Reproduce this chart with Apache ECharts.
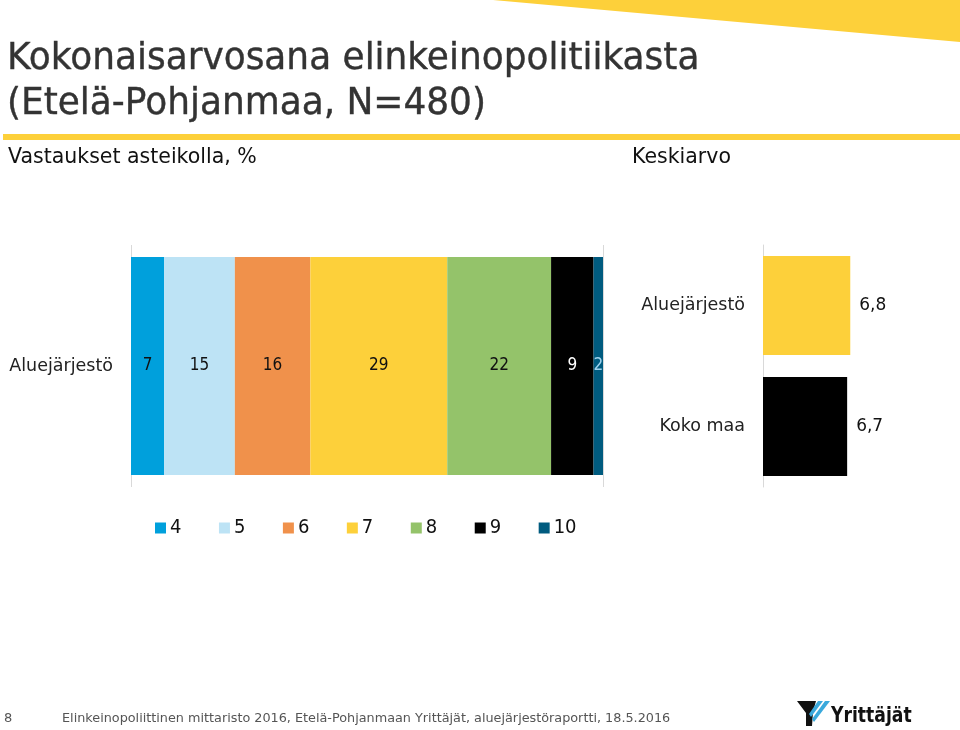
<!DOCTYPE html>
<html>
<head>
<meta charset="utf-8">
<script src="https://cdn.jsdelivr.net/npm/echarts@6/dist/echarts.min.js"></script>
<style>
  html, body { margin: 0; padding: 0; background: #fff; }
  #chart { width: 960px; height: 730px; }
</style>
</head>
<body>
<div id="chart"></div>
<script>
// jakauma asteikolla 4..10, %
const scaleNames = ['4', '5', '6', '7', '8', '9', '10']
const shares = [7, 15, 16, 29, 22, 9, 2]
const scaleColors = ['#00a0dc', '#bde3f5', '#f0914b', '#fdd03a', '#94c36a', '#000000', '#005b7f']
const labelColors = ['#111', '#111', '#111', '#111', '#111', '#fff', '#9fd3ee']
const rowName = ['Aluejärjestö']

// keskiarvot
const avgNames = ['Aluejärjestö', 'Koko maa']
const avgValues = [6.8, 6.7]
const avgColors = ['#fdd03a', '#000000']

const FONT = 'DejaVu Sans'
const COND = 'DejaVu Sans Condensed'

let stackSeries = scaleNames.map((name, i) => ({
  name: name,
  type: 'bar',
  stack: 'jakauma',
  xAxisIndex: 0,
  yAxisIndex: 0,
  barWidth: '90%',
  itemStyle: { color: scaleColors[i] },
  label: {
    show: true,
    position: 'inside',
    fontFamily: COND,
    fontSize: 17,
    color: labelColors[i]
  },
  data: [shares[i]]
}))

let option = {
  animation: false,
  backgroundColor: '#fff',
  textStyle: { fontFamily: FONT },
  grid: [
    { left: 131, top: 245, width: 472, height: 242 },
    { left: 763, top: 245, width: 187, height: 242 }
  ],
  xAxis: [
    {
      gridIndex: 0, type: 'value', min: 0, max: 100, interval: 100,
      axisLabel: { show: false }, axisTick: { show: false }, axisLine: { show: false },
      splitLine: { show: true, lineStyle: { color: '#d9d9d9', width: 1 } }
    },
    {
      gridIndex: 1, type: 'value', min: 4, max: 10, interval: 6,
      axisLabel: { show: false }, axisTick: { show: false }, axisLine: { show: false },
      splitLine: { show: false }
    }
  ],
  yAxis: [
    {
      gridIndex: 0, type: 'category', data: rowName,
      axisLine: { show: false }, axisTick: { show: false },
      axisLabel: { fontFamily: FONT, fontSize: 17.5, color: '#222', margin: 18 }
    },
    {
      gridIndex: 1, type: 'category', data: avgNames, inverse: true,
      axisLine: { show: true, lineStyle: { color: '#d9d9d9' } }, axisTick: { show: false },
      axisLabel: { fontFamily: FONT, fontSize: 17.5, color: '#222', margin: 18 }
    }
  ],
  legend: {
    data: scaleNames,
    left: 150,
    top: 513,
    itemWidth: 11,
    itemHeight: 11,
    itemGap: 37.5,
    icon: 'rect',
    textStyle: { fontFamily: COND, fontSize: 20, color: '#111', padding: [0, 0, 0, -1] }
  },
  series: stackSeries.concat([
    {
      name: 'Keskiarvo',
      type: 'bar',
      xAxisIndex: 1,
      yAxisIndex: 1,
      barWidth: '82%',
      label: {
        show: true,
        position: 'right',
        distance: 9,
        fontFamily: FONT,
        fontSize: 17,
        color: '#111',
        formatter: p => p.value.toFixed(1).replace('.', ',')
      },
      data: avgValues.map((v, i) => ({ value: v, itemStyle: { color: avgColors[i] } }))
    }
  ]),
  graphic: [
    // keltainen kiila oikeassa yläkulmassa
    { type: 'polygon', shape: { points: [[493, 0], [960, 0], [960, 42]] }, style: { fill: '#fdd03a' } },
    { type: 'rect', shape: { x: 3, y: 134, width: 957, height: 6 }, style: { fill: '#fdd03a' } },
    { type: 'text', x: 7, y: 59.5, scaleX: 0.945, style: { text: 'Kokonaisarvosana elinkeinopolitiikasta', font: '38px "DejaVu Sans"', fill: '#333', stroke: '#333', lineWidth: 0.4, verticalAlign: 'middle' } },
    { type: 'text', x: 7, y: 104.5, scaleX: 0.945, style: { text: '(Etelä-Pohjanmaa, N=480)', font: '38px "DejaVu Sans"', fill: '#333', stroke: '#333', lineWidth: 0.4, verticalAlign: 'middle' } },
    { type: 'text', x: 8, y: 158, style: { text: 'Vastaukset asteikolla, %', font: '20.5px "DejaVu Sans"', fill: '#111', verticalAlign: 'middle' } },
    { type: 'text', x: 632, y: 158, style: { text: 'Keskiarvo', font: '20.5px "DejaVu Sans"', fill: '#111', verticalAlign: 'middle' } },
    // alatunniste
    { type: 'text', x: 4, y: 719, style: { text: '8', font: '13px "DejaVu Sans"', fill: '#555', verticalAlign: 'middle' } },
    { type: 'text', x: 62, y: 719, style: { text: 'Elinkeinopoliittinen mittaristo 2016, Etelä-Pohjanmaan Yrittäjät, aluejärjestöraportti, 18.5.2016', font: '12.8px "DejaVu Sans"', fill: '#555', verticalAlign: 'middle' } },
    // logo
    { type: 'polygon', shape: { points: [[797, 701], [816, 701], [813, 712], [812, 726], [806, 726], [806, 713]] }, style: { fill: '#111' } },
    { type: 'polygon', shape: { points: [[818, 701], [823, 701], [811, 717], [809, 714]] }, style: { fill: '#3aa9dc' } },
    { type: 'polygon', shape: { points: [[825, 701], [830, 701], [814, 722], [812, 719]] }, style: { fill: '#3aa9dc' } },
    { type: 'text', x: 831, y: 716, scaleX: 0.87, style: { text: 'Yrittäjät', font: 'bold 22px "DejaVu Sans Condensed"', fill: '#111', verticalAlign: 'middle' } }
  ]
}

let myChart = echarts.init(document.getElementById('chart'))
myChart.setOption(option, true)
</script>
</body>
</html>
